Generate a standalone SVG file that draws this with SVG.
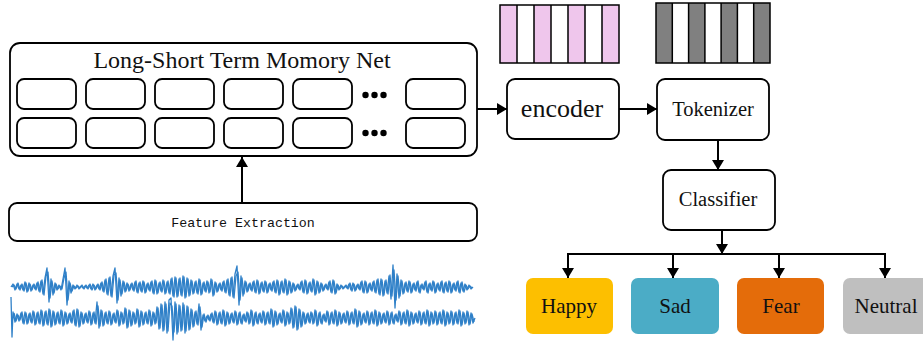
<svg xmlns="http://www.w3.org/2000/svg" width="923" height="342" viewBox="0 0 923 342">
<defs>
<marker id="ah" markerUnits="userSpaceOnUse" markerWidth="12" markerHeight="12" viewBox="0 0 10 12" refX="10" refY="6" orient="auto">
<path d="M0,0 L10,6 L0,12 Z" fill="#000"/>
</marker>
</defs>
<style>
.box{fill:#fff;stroke:#000;stroke-width:1.8}
.cell{fill:#fff;stroke:#000;stroke-width:1.8}
.ser{font-family:"Liberation Serif","Times New Roman",serif;fill:#111;text-anchor:middle}
.mono{font-family:"Liberation Mono","Courier New",monospace;fill:#111;text-anchor:middle}
.conn{fill:none;stroke:#000;stroke-width:2}
.wave{fill:none;stroke:#2f80c8;stroke-width:1.3;stroke-linejoin:round}
.bar{stroke:#000;stroke-width:1.5}
</style>
<rect width="923" height="342" fill="#fff"/>

<g id="lstm">
<rect class="box" x="10" y="43" width="467" height="113" rx="10"/>
<text class="ser" x="242" y="68" font-size="24">Long-Short Term Momory Net</text>
<g>
<rect class="cell" x="17" y="79" width="59" height="30" rx="7"/>
<rect class="cell" x="86" y="79" width="59" height="30" rx="7"/>
<rect class="cell" x="155" y="79" width="59" height="30" rx="7"/>
<rect class="cell" x="224" y="79" width="59" height="30" rx="7"/>
<rect class="cell" x="293" y="79" width="59" height="30" rx="7"/>
<rect class="cell" x="406" y="79" width="59" height="30" rx="7"/>
<rect class="cell" x="17" y="118" width="59" height="30" rx="7"/>
<rect class="cell" x="86" y="118" width="59" height="30" rx="7"/>
<rect class="cell" x="155" y="118" width="59" height="30" rx="7"/>
<rect class="cell" x="224" y="118" width="59" height="30" rx="7"/>
<rect class="cell" x="293" y="118" width="59" height="30" rx="7"/>
<rect class="cell" x="406" y="118" width="59" height="30" rx="7"/>
<circle cx="365.5" cy="95" r="3.2"/><circle cx="374.5" cy="95" r="3.2"/><circle cx="383.5" cy="95" r="3.2"/>
<circle cx="365.5" cy="133" r="3.2"/><circle cx="374.5" cy="133" r="3.2"/><circle cx="383.5" cy="133" r="3.2"/>
</g>
</g>

<g id="feature">
<rect class="box" x="9" y="203" width="468" height="38" rx="8"/>
<text class="mono" x="243" y="227" font-size="13.3">Feature Extraction</text>
</g>

<g id="waveform">
<polyline class="wave" points="11,287 13,284 15,290 17,284 19,289 21,285 23,290 25,282 27,292 29,283 31,291 33,285 35,289 37,283 39,291 41,281 43,294 45,278 47,268 49,302 51,279 53,295 55,283 57,290 59,285 61,290 63,279 65,268 67,305 69,281 71,293 73,285 75,289 77,285 79,289 81,286 83,288 85,286 87,288 89,285 91,289 93,284 95,290 97,285 99,289 101,283 103,291 105,280 107,294 109,278 111,296 113,276 115,268 117,303 119,278 121,296 123,281 125,292 127,283 129,291 131,284 133,290 135,282 137,292 139,283 141,291 143,281 145,293 147,284 149,290 151,282 153,293 155,280 157,294 159,283 161,291 163,280 165,294 167,282 169,293 171,279 173,296 175,277 177,297 179,279 181,295 183,276 185,298 187,278 189,296 191,280 193,294 195,282 197,293 199,279 201,295 203,283 205,291 207,281 209,293 211,279 213,296 215,282 217,292 219,284 221,290 223,282 225,292 227,280 229,295 231,278 233,297 235,274 237,266 239,305 241,276 243,296 245,281 247,292 249,284 251,290 253,282 255,292 257,280 259,294 261,283 263,291 265,281 267,293 269,284 271,290 273,282 275,292 277,280 279,295 281,282 283,292 285,279 287,295 289,281 291,293 293,283 295,291 297,285 299,289 301,282 303,292 305,280 307,294 309,283 311,291 313,279 315,295 317,281 319,293 321,283 323,291 325,285 327,289 329,282 331,292 333,280 335,294 337,284 339,290 341,285 343,289 345,286 347,288 349,284 351,290 353,283 355,291 357,285 359,289 361,282 363,292 365,281 367,293 369,284 371,290 373,282 375,292 377,280 379,294 381,279 383,296 385,281 387,293 389,276 391,299 393,265 395,308 397,274 399,298 401,280 403,294 405,283 407,291 409,281 411,293 413,284 415,290 417,282 419,292 421,285 423,289 425,282 427,292 429,284 431,290 433,281 435,293 437,284 439,290 441,282 443,292 445,283 447,291 449,281 451,293 453,284 455,290 457,282 459,292 461,283 463,291 465,284 467,290 469,285 471,289 473,287"/>
<polyline class="wave" transform="translate(1,0)" points="11,287 13,285 15,289 17,283 19,290 21,284 23,291 25,283 27,291 29,284 31,290 33,284 35,290 37,282 39,292 41,280 43,295 45,276 47,272 49,298 51,281 53,293 55,284 57,289 59,286 61,289 63,278 65,272 67,300 69,283 71,291 73,286 75,288 77,286 79,288 81,285 83,289 85,285 87,289 89,284 91,290 93,285 95,289 97,284 99,290 101,282 103,292 105,279 107,295 109,277 111,297 113,275 115,273 117,300 119,280 121,294 123,282 125,291 127,284 129,290 131,283 133,291 135,281 137,293 139,282 141,292 143,282 145,292 147,283 149,291 151,281 153,294 155,281 157,293 159,282 161,292 163,281 165,293 167,281 169,294 171,278 173,297 175,278 177,296 179,278 181,296 183,277 185,297 187,279 189,295 191,281 193,293 195,281 197,294 199,280 201,294 203,282 205,292 207,282 209,292 211,280 213,295 215,283 217,291 219,283 221,291 223,281 225,293 227,279 229,296 231,277 233,298 235,276 237,272 239,300 241,278 243,294 245,282 247,291 249,283 251,291 253,281 255,293 257,281 259,293 261,282 263,292 265,282 267,292 269,283 271,291 273,281 275,293 277,281 279,294 281,281 283,293 285,280 287,294 289,282 291,292 293,284 295,290 297,284 299,290 301,281 303,293 305,281 307,293 309,282 311,292 313,280 315,294 317,282 319,292 321,284 323,290 325,284 327,290 329,281 331,293 333,281 335,293 337,285 339,289 341,286 343,288 345,285 347,289 349,283 351,291 353,284 355,290 357,284 359,290 361,281 363,293 365,282 367,292 369,283 371,291 373,281 375,293 377,279 379,295 381,280 383,295 385,280 387,294 389,275 391,296 393,270 395,300 397,276 399,296 401,281 403,293 405,282 407,292 409,282 411,292 413,283 415,291 417,281 419,293 421,284 423,290 425,281 427,293 429,283 431,291 433,282 435,292 437,283 439,291 441,281 443,293 445,282 447,292 449,282 451,292 453,283 455,291 457,281 459,293 461,282 463,292 465,285 467,289 469,286 471,288"/>
<polyline class="wave" points="11,297 12,337 13,312 15,322 17,314 19,321 21,313 23,323 25,312 27,324 29,314 31,322 33,311 35,325 37,313 39,323 41,310 43,326 45,312 47,324 49,309 51,327 53,311 55,325 57,313 59,323 61,310 63,326 65,312 67,324 69,314 71,322 73,311 75,325 77,309 79,327 81,312 83,324 85,314 87,322 89,311 91,325 93,313 95,323 97,302 99,328 101,310 103,326 105,313 107,323 109,311 111,325 113,314 115,322 117,310 119,326 121,312 123,324 125,308 127,328 129,310 131,326 133,312 135,324 137,309 139,327 141,311 143,325 145,313 147,323 149,310 151,326 153,312 155,324 157,307 159,329 161,304 163,331 165,302 167,333 169,300 171,298 173,340 175,302 177,334 179,305 181,331 183,303 185,333 187,306 189,330 191,309 193,327 195,312 197,324 199,304 201,330 203,315 205,321 207,316 209,320 211,314 213,322 215,311 217,325 219,313 221,323 223,310 225,326 227,312 229,324 231,314 233,322 235,311 237,325 239,313 241,323 243,315 245,321 247,312 249,324 251,310 253,326 255,313 257,323 259,314 261,322 263,311 265,325 267,313 269,323 271,309 273,327 275,311 277,325 279,314 281,322 283,310 285,326 287,312 289,324 291,308 293,328 295,306 297,330 299,309 301,327 303,312 305,324 307,314 309,322 311,312 313,324 315,310 317,326 319,313 321,323 323,315 325,321 327,311 329,325 331,313 333,323 335,310 337,326 339,312 341,324 343,314 345,322 347,311 349,325 351,313 353,323 355,309 357,327 359,311 361,325 363,314 365,322 367,311 369,325 371,313 373,323 375,310 377,326 379,312 381,324 383,314 385,322 387,311 389,325 391,313 393,323 395,315 397,321 399,311 401,325 403,313 405,323 407,310 409,326 411,312 413,324 415,314 417,322 419,311 421,325 423,313 425,323 427,310 429,326 431,312 433,324 435,311 437,325 439,313 441,323 443,310 445,326 447,312 449,324 451,311 453,325 455,313 457,323 459,310 461,326 463,312 465,324 467,311 469,325 471,313 473,323 475,318"/>
<polyline class="wave" transform="translate(1,0)" points="13,313 15,321 17,315 19,320 21,312 23,324 25,313 27,323 29,313 31,323 33,312 35,324 37,312 39,324 41,311 43,325 45,311 47,325 49,310 51,326 53,312 55,324 57,312 59,324 61,311 63,325 65,313 67,323 69,313 71,323 73,310 75,326 77,310 79,326 81,313 83,323 85,313 87,323 89,312 91,324 93,312 95,324 97,306 99,326 101,311 103,325 105,312 107,324 109,312 111,324 113,313 115,323 117,311 119,325 121,313 123,323 125,309 127,327 129,311 131,325 133,313 135,323 137,310 139,326 141,312 143,324 145,312 147,324 149,311 151,325 153,313 155,323 157,308 159,328 161,305 163,330 165,304 167,331 169,303 171,306 173,332 175,304 177,332 179,306 181,330 183,305 185,331 187,307 189,329 191,310 193,326 195,311 197,325 199,307 201,327 203,314 205,322 207,315 209,321 211,313 213,323 215,312 217,324 219,312 221,324 223,311 225,325 227,313 229,323 231,313 233,323 235,312 237,324 239,312 241,324 243,314 245,322 247,313 249,323 251,311 253,325 255,312 257,324 259,313 261,323 263,312 265,324 267,312 269,324 271,310 273,326 275,312 277,324 279,313 281,323 283,311 285,325 287,313 289,323 291,309 293,327 295,307 297,329 299,310 301,326 303,313 305,323 307,313 309,323 311,313 313,323 315,311 317,325 319,312 321,324 323,314 325,322 327,312 329,324 331,312 333,324 335,311 337,325 339,313 341,323 343,313 345,323 347,312 349,324 351,312 353,324 355,310 357,326 359,312 361,324 363,313 365,323 367,312 369,324 371,312 373,324 375,311 377,325 379,313 381,323 383,313 385,323 387,312 389,324 391,312 393,324 395,314 397,322 399,312 401,324 403,312 405,324 407,311 409,325 411,313 413,323 415,313 417,323 419,312 421,324 423,312 425,324 427,311 429,325 431,313 433,323 435,312 437,324 439,312 441,324 443,311 445,325 447,313 449,323 451,312 453,324 455,312 457,324 459,311 461,325 463,313 465,323 467,312 469,324 471,314 473,322"/>
</g>

<g id="pink-bars">
<rect x="500" y="5" width="17" height="58" fill="#efc6ec"/>
<rect x="534" y="5" width="17" height="58" fill="#efc6ec"/>
<rect x="568" y="5" width="17" height="58" fill="#efc6ec"/>
<rect x="602" y="5" width="17" height="58" fill="#efc6ec"/>
<rect class="bar" x="500" y="5" width="119" height="58" fill="none"/>
<path class="bar" d="M517,5V63M534,5V63M551,5V63M568,5V63M585,5V63M602,5V63"/>
</g>

<g id="gray-bars">
<rect x="656" y="3" width="16.3" height="60" fill="#808080"/>
<rect x="688.6" y="3" width="16.3" height="60" fill="#808080"/>
<rect x="721.1" y="3" width="16.3" height="60" fill="#808080"/>
<rect x="753.7" y="3" width="16.3" height="60" fill="#808080"/>
<rect class="bar" x="656" y="3" width="114" height="60" fill="none"/>
<path class="bar" d="M672.3,3V63M688.6,3V63M704.9,3V63M721.1,3V63M737.4,3V63M753.7,3V63"/>
</g>

<g id="encoder">
<rect class="box" x="507" y="79" width="112" height="60" rx="8"/>
<text class="ser" x="562" y="117" font-size="26">encoder</text>
</g>

<g id="tokenizer">
<rect class="box" x="657" y="79" width="112" height="61" rx="8"/>
<text class="ser" x="713" y="116" font-size="20.5">Tokenizer</text>
</g>

<g id="classifier">
<rect class="box" x="663" y="170" width="112" height="60" rx="8"/>
<text class="ser" x="718" y="206" font-size="20.5">Classifier</text>
</g>

<g id="happy">
<rect x="526" y="278" width="87" height="56" rx="7" fill="#fdbf00"/>
<text class="ser" x="569" y="313" font-size="21">Happy</text>
</g>
<g id="sad">
<rect x="631" y="278" width="88" height="56" rx="7" fill="#4bacc6"/>
<text class="ser" x="675" y="313" font-size="21">Sad</text>
</g>
<g id="fear">
<rect x="737" y="278" width="87" height="56" rx="7" fill="#e46c0a"/>
<text class="ser" x="781" y="313" font-size="21">Fear</text>
</g>
<g id="neutral">
<rect x="843" y="278" width="88" height="56" rx="7" fill="#bfbfbf"/>
<text class="ser" x="886" y="313" font-size="21">Neutral</text>
</g>

<g id="connectors">
<line class="conn" x1="242" y1="203" x2="242" y2="157" marker-end="url(#ah)"/>
<line class="conn" x1="477" y1="109" x2="507" y2="109" marker-end="url(#ah)"/>
<line class="conn" x1="619" y1="109" x2="657" y2="109" marker-end="url(#ah)"/>
<line class="conn" x1="718" y1="140" x2="718" y2="170" marker-end="url(#ah)"/>
<line class="conn" x1="722" y1="230" x2="722" y2="254" marker-end="url(#ah)"/>
<polyline class="conn" points="568,277 568,254 885,254 885,277"/>
<line class="conn" x1="568" y1="254" x2="568" y2="278" marker-end="url(#ah)"/>
<line class="conn" x1="673" y1="254" x2="673" y2="278" marker-end="url(#ah)"/>
<line class="conn" x1="779" y1="254" x2="779" y2="278" marker-end="url(#ah)"/>
<line class="conn" x1="885" y1="254" x2="885" y2="278" marker-end="url(#ah)"/>
</g>
</svg>
